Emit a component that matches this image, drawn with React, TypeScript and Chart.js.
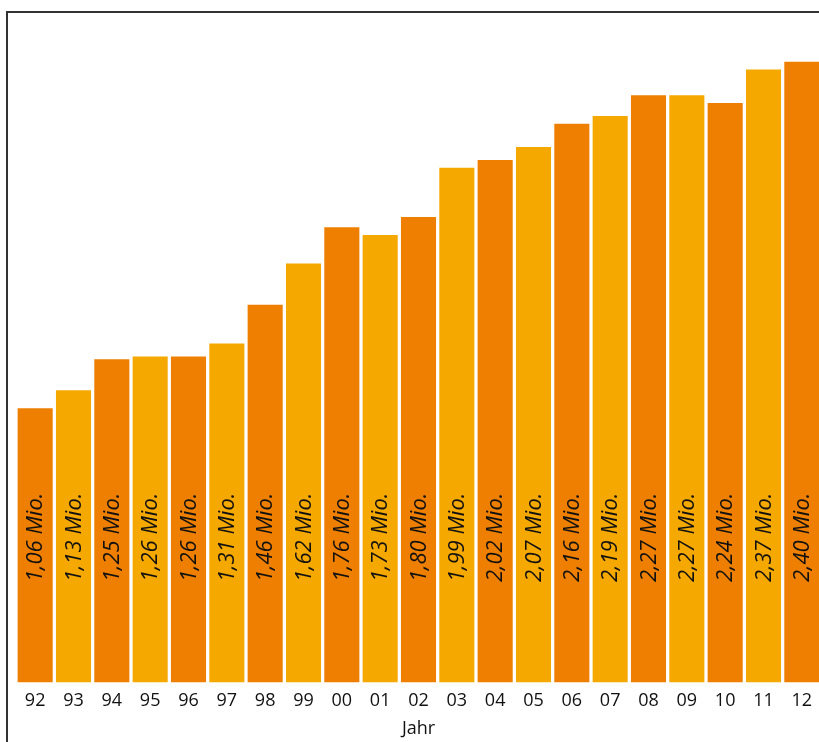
import React, { useEffect, useRef } from "react";
import { Chart, registerables } from "chart.js";

Chart.register(...registerables);

// Jahrgänge (zweistellig) und Werte in Millionen
const years = ["92", "93", "94", "95", "96", "97", "98", "99", "00", "01", "02", "03", "04", "05", "06", "07", "08", "09", "10", "11", "12"];
const valuesMio = [1.06, 1.13, 1.25, 1.26, 1.26, 1.31, 1.46, 1.62, 1.76, 1.73, 1.8, 1.99, 2.02, 2.07, 2.16, 2.19, 2.27, 2.27, 2.24, 2.37, 2.4];
const axisTitle = "Jahr";
const unitSuffix = " Mio.";

const DARK = "#EE7F00";
const LIGHT = "#F5A800";
const FONT = "'Open Sans', 'Noto Sans', sans-serif";

const formatMio = (v: number) => v.toFixed(2).replace(".", ",") + unitSuffix;

// Vertikale, kursive Wertbeschriftung in jedem Balken
const barLabels = {
  id: "barLabels",
  afterDatasetsDraw(chart: any) {
    const { ctx, chartArea } = chart;
    const meta = chart.getDatasetMeta(0);
    const data = chart.data.datasets[0].data as number[];
    ctx.save();
    ctx.font = `italic 22px ${FONT}`;
    ctx.fillStyle = "#111111";
    ctx.textAlign = "center";
    ctx.textBaseline = "middle";
    meta.data.forEach((bar: any, i: number) => {
      ctx.save();
      ctx.translate(bar.x + 1, chartArea.bottom - 145);
      ctx.rotate(-Math.PI / 2);
      ctx.fillText(formatMio(data[i]), 0, 0);
      ctx.restore();
    });
    ctx.restore();
  },
};

export default function App() {
  const canvasRef = useRef<HTMLCanvasElement | null>(null);

  useEffect(() => {
    if (!canvasRef.current) return;
    const chart = new Chart(canvasRef.current, {
      type: "bar",
      data: {
        labels: years,
        datasets: [
          {
            data: valuesMio,
            backgroundColor: valuesMio.map((_, i) => (i % 2 === 0 ? DARK : LIGHT)),
            borderWidth: 0,
            categoryPercentage: 1,
            barPercentage: 0.915,
          },
        ],
      },
      options: {
        responsive: false,
        animation: false,
        layout: { padding: { top: 10, left: 16, right: 1, bottom: 4 } },
        plugins: { legend: { display: false }, tooltip: { enabled: false } },
        scales: {
          x: {
            grid: { display: false, drawTicks: false, tickLength: 0 },
            border: { display: false },
            ticks: { color: "#111", font: { family: FONT, size: 18 }, padding: 8, maxRotation: 0, autoSkip: false },
            title: {
              display: true,
              text: axisTitle,
              color: "#111",
              font: { family: FONT, size: 18, lineHeight: 1 },
              padding: { top: 0, bottom: 0 },
            },
          },
          y: {
            display: false,
            min: 0,
            max: 2.6,
          },
        },
      },
      plugins: [barLabels],
    });
    return () => chart.destroy();
  }, []);

  return (
    <div style={{ position: "fixed", left: 0, top: 0, width: 819, height: 742, overflow: "hidden", background: "#fff" }}>
      <canvas ref={canvasRef} width={822} height={742} style={{ position: "absolute", left: 0, top: 0, width: 822, height: 742 }} />
      <div
        style={{
          position: "absolute",
          left: 6,
          top: 11,
          width: 900,
          height: 900,
          borderLeft: "2px solid #333",
          borderTop: "2px solid #333",
          pointerEvents: "none",
        }}
      />
    </div>
  );
}
